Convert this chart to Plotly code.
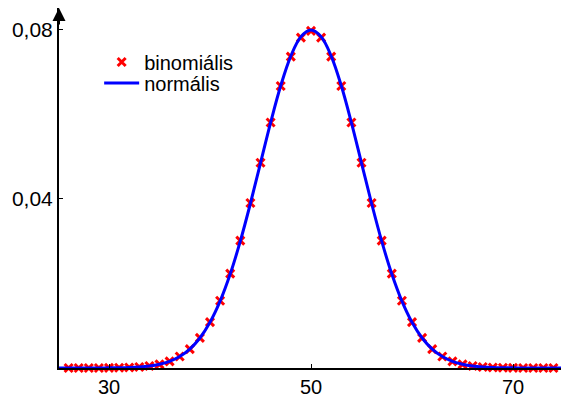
import plotly.graph_objects as go

# Binomial(100, 0.5) probabilities, k = 26 .. 75
k_vals = list(range(26, 76))
binom_p = [
    0.0, 0.0, 0.0, 0.0, 0.00002, 0.00005, 0.00011, 0.00023, 0.00046, 0.00086,
    0.00156, 0.00270, 0.00447, 0.00711, 0.01084, 0.01587, 0.02229, 0.03007, 0.03895, 0.04847,
    0.05796, 0.06659, 0.07353, 0.07801, 0.07959, 0.07801, 0.07353, 0.06659, 0.05796, 0.04847,
    0.03895, 0.03007, 0.02229, 0.01587, 0.01084, 0.00711, 0.00447, 0.00270, 0.00156, 0.00086,
    0.00046, 0.00023, 0.00011, 0.00005, 0.00002, 0.0, 0.0, 0.0, 0.0, 0.0,
]

# Normal density (mean 50, sd 5), x = 25 .. 75
x_norm = list(range(25, 76))
norm_pdf = [
    0.0, 0.0, 0.0, 0.0, 0.0, 0.00003, 0.00006, 0.00012, 0.00025, 0.00048, 0.00089,
    0.00158, 0.00272, 0.00448, 0.00709, 0.01080, 0.01579, 0.02218, 0.02995, 0.03884, 0.04839,
    0.05794, 0.06664, 0.07365, 0.07821, 0.07979, 0.07821, 0.07365, 0.06664, 0.05794, 0.04839,
    0.03884, 0.02995, 0.02218, 0.01579, 0.01080, 0.00709, 0.00448, 0.00272, 0.00158, 0.00089,
    0.00048, 0.00025, 0.00012, 0.00006, 0.00003, 0.0, 0.0, 0.0, 0.0, 0.0,
]

x_ticks = [30, 50, 70]
y_ticks = [0.04, 0.08]
y_tick_text = ["0,04", "0,08"]

FONT = "Liberation Sans, Arial, sans-serif"
FS = 21

fig = go.Figure()
fig.add_trace(go.Scatter(
    x=k_vals, y=binom_p, mode="markers", name="binomiális", legend="legend",
    marker=dict(symbol="x-thin", size=8, color="#ff0000",
                line=dict(color="#ff0000", width=3)),
    cliponaxis=False,
))
fig.add_trace(go.Scatter(
    x=x_norm, y=norm_pdf, mode="lines", name="normális", legend="legend2",
    line=dict(color="#0000ff", width=3, shape="spline"),
    cliponaxis=False,
))

legend_style = dict(xanchor="left", yanchor="middle", bgcolor="rgba(0,0,0,0)",
                    font=dict(size=20), itemwidth=35)

fig.update_layout(
    width=561, height=397,
    margin=dict(l=59, r=0, t=8, b=29, autoexpand=False),
    paper_bgcolor="white", plot_bgcolor="white",
    font=dict(family=FONT, size=FS, color="black"),
    showlegend=True,
    legend=dict(x=0.08, y=0.85, **legend_style),
    legend2=dict(x=0.08, y=0.792, **legend_style),
    xaxis=dict(range=[25.05, 74.75], showgrid=False, zeroline=False,
               showline=True, linecolor="black", linewidth=2, automargin=False,
               tickvals=x_ticks, ticks="inside", ticklen=4, tickwidth=1,
               tickcolor="black", ticklabelstandoff=0,
               tickfont=dict(size=20)),
    yaxis=dict(range=[0, 0.085], showgrid=False, zeroline=False,
               showline=True, linecolor="black", linewidth=2, automargin=False,
               tickvals=y_ticks, ticktext=y_tick_text, ticks="inside",
               ticklen=4, tickwidth=1, tickcolor="black"),
)

# arrowhead on top of the y axis
fig.add_annotation(
    xref="paper", yref="paper", x=0, y=1, ax=0, ay=18,
    axref="pixel", ayref="pixel", text="", showarrow=True,
    arrowhead=2, arrowsize=1.3, arrowwidth=2, arrowcolor="black",
)

fig.write_html("out.html")
